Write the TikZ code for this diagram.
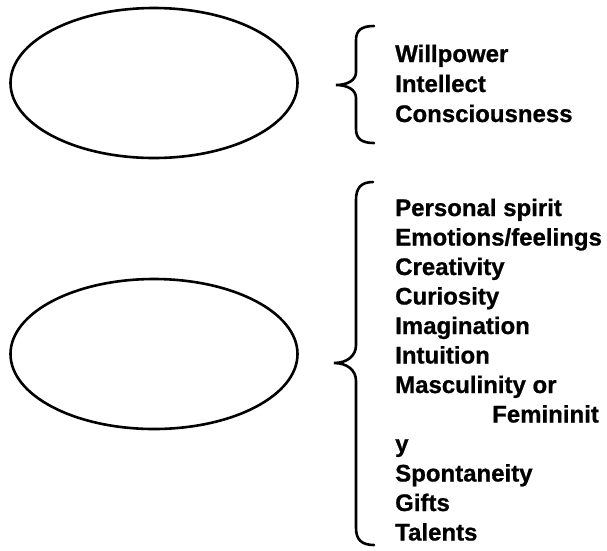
\documentclass[tikz,border=0pt]{standalone}
\usepackage{fontspec}
\setmainfont{Liberation Sans}[BoldFeatures={FakeBold=0.8}]
\usetikzlibrary{shapes.geometric}

\tikzset{
	blob/.style={ellipse, draw, line width=2.6pt, minimum width=287pt, minimum height=150pt, inner sep=0pt},
	bracket/.style={line width=2.6pt, line cap=round},
	item/.style={anchor=base west, inner sep=0pt, font=\fontsize{24}{28}\selectfont\bfseries}
}

\begin{document}
\begin{tikzpicture}[x=1pt, y=-1pt]
			\useasboundingbox (0,0) rectangle (607,550);
			
			% Ellipses
			\node[blob] (upper) at (154,83) {};
			\node[blob] (lower) at (154,354) {};
			
			% Braces
			\draw[bracket] (374,26) .. controls (362,26) and (356,30) .. (356,40) -- (356,72)
				.. controls (356,80) and (348,85) .. (336,85)
				.. controls (348,85) and (356,90) .. (356,98) -- (356,129)
				.. controls (356,139) and (362,143) .. (374,143);
			\draw[bracket] (373,182) .. controls (361,182) and (356,188) .. (356,200) -- (356,345)
				.. controls (356,356) and (347,363) .. (334,363)
				.. controls (347,363) and (356,370) .. (356,381) -- (356,528)
				.. controls (356,540) and (362,545) .. (374,545);
			
			% Upper list
			\node[item] (will) at (395,62) {Willpower};
			\node[item] (intel) at (395,92) {Intellect};
			\node[item] (consc) at (395,122) {Consciousness};
			
			% Lower list
			\node[item] (spirit) at (395,216) {Personal spirit};
			\node[item] (emo) at (395,245.5) {Emotions/feelings};
			\node[item] (creat) at (395,275) {Creativity};
			\node[item] (curio) at (395,304.5) {Curiosity};
			\node[item] (imag) at (395,334) {Imagination};
			\node[item] (intui) at (395,363.5) {Intuition};
			\node[item] (masc) at (395,393) {Masculinity or};
			\node[item] (femi) at (492,422.5) {Femininit};
			\node[item] (femy) at (395,452) {y};
			\node[item] (spont) at (395,481.5) {Spontaneity};
			\node[item] (gifts) at (395,511) {Gifts};
			\node[item] (talent) at (395,540.5) {Talents};
		\end{tikzpicture}
\end{document}
